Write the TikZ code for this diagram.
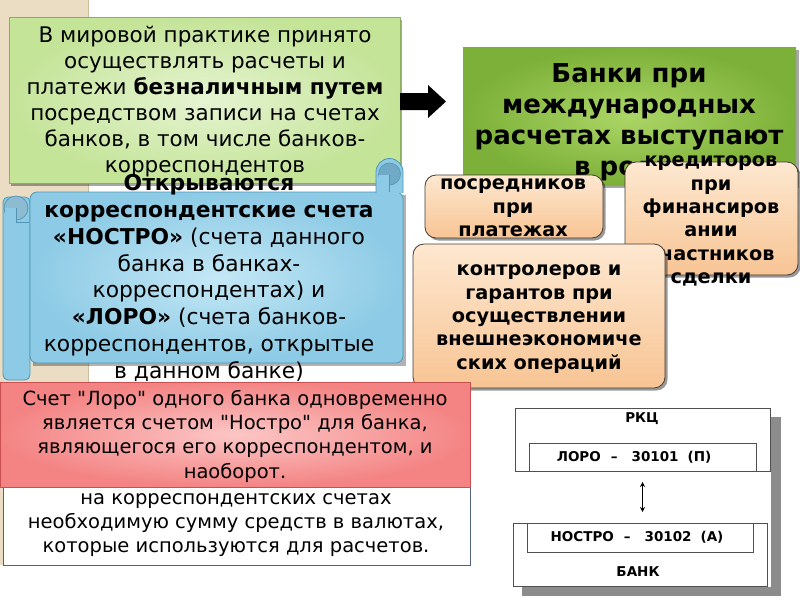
\documentclass[tikz,border=0pt]{standalone}
\usepackage{fontspec}
\setmainfont{DejaVu Sans}[Ligatures=TeXOff]
\usetikzlibrary{shadows,arrows.meta,fit}
\definecolor{strip}{RGB}{234,221,196}
\definecolor{stripline}{RGB}{205,188,160}
\definecolor{gA}{RGB}{196,228,152}
\definecolor{gAin}{RGB}{230,244,210}
\definecolor{gAline}{RGB}{140,175,95}
\definecolor{gB}{RGB}{124,176,56}
\definecolor{gBin}{RGB}{172,214,102}
\definecolor{peachTop}{RGB}{253,232,208}
\definecolor{peachBot}{RGB}{248,196,148}
\definecolor{peachLine}{RGB}{70,60,50}
\definecolor{blueOut}{RGB}{140,202,229}
\definecolor{blueIn}{RGB}{196,232,246}
\definecolor{blueLine}{RGB}{80,150,180}
\definecolor{curl}{RGB}{112,170,198}
\definecolor{redOut}{RGB}{244,132,132}
\definecolor{redIn}{RGB}{252,198,198}
\definecolor{redLine}{RGB}{200,80,80}
\definecolor{wline}{RGB}{80,96,136}
\definecolor{dgray}{RGB}{80,80,80}
\begin{document}
\begin{tikzpicture}[x=1pt,y=-1pt,
  boxbase/.style={inner sep=0pt, outer sep=0pt},
  greenA/.style={boxbase, draw=gAline, line width=0.8pt, inner color=gAin, outer color=gA,
     drop shadow={shadow xshift=1.5pt, shadow yshift=-2.5pt, fill=black, opacity=0.35}},
  greenB/.style={boxbase, inner color=gBin, outer color=gB,
     drop shadow={shadow xshift=3pt, shadow yshift=-3pt, fill=black, opacity=0.35}},
  peach/.style={boxbase, draw=peachLine, line width=0.8pt, rounded corners=11pt,
     top color=peachTop, bottom color=peachBot,
     drop shadow={shadow xshift=2.5pt, shadow yshift=-2.5pt, fill=black, opacity=0.4}},
  redbox/.style={boxbase, draw=redLine, line width=0.6pt, inner color=redIn, outer color=redOut},
  whitebox/.style={boxbase, draw=wline, line width=1pt, fill=white},
  dbox/.style={boxbase, draw=dgray, line width=0.8pt, fill=white},
  txtA/.style={inner sep=0pt, align=center, font=\fontsize{21.5}{26}\selectfont},
  txtB/.style={inner sep=0pt, align=center, font=\fontsize{26}{31}\selectfont\bfseries},
  txtP/.style={inner sep=0pt, align=center, font=\fontsize{19.3}{23.3}\selectfont\bfseries},
  txtS/.style={inner sep=0pt, align=center, font=\fontsize{21.8}{26.8}\selectfont},
  txtR/.style={inner sep=0pt, align=center, font=\fontsize{19.5}{24.3}\selectfont},
  txtD/.style={inner sep=0pt, align=center, font=\fontsize{13.5}{16}\selectfont\bfseries},
  scrollfill/.style={draw=blueLine, line width=0.8pt, fill=blueOut},
]
\useasboundingbox (0,0) rectangle (800,600);
\fill[white] (0,0) rectangle (800,600);
% left decorative strip
\fill[strip] (0,0) rectangle (88,565);
\draw[stripline, line width=1pt] (88,0) -- (88,565);

% green box 1
\node (g1) [greenA, fit={(9,17) (400,183)}] {};
\node (g1t) [txtA] at (205,102) {В мировой практике принято\\осуществлять расчеты и\\платежи \textbf{безналичным путем}\\посредством записи на счетах\\банков, в том числе банков-\\корреспондентов};

% block arrow
\fill[black] (400,93) -- (428,93) -- (428,85) -- (446,101.5) -- (428,118) -- (428,110) -- (400,110) -- cycle;

% green box 2
\node (g2) [greenB, fit={(463,47) (796,185)}] {};
\node (g2t) [txtB] at (629,122) {Банки при\\международных\\расчетах выступают\\в роли:};

% peach boxes
\node (p1) [peach, fit={(425,175) (603,238)}] {};
\node (p1t) [txtP] at (513,208) {посредников\\при\\платежах};
\node (p2) [peach, fit={(625,162) (798,275)}] {};
\node (p2t) [txtP] at (711,221) {кредиторов\\при\\финансиров\\ании\\участников\\сделки};
\node (p3) [peach, fit={(413,244) (665,388)}] {};
\node (p3t) [txtP] at (539,319) {контролеров и\\гарантов при\\осуществлении\\внешнеэкономиче\\ских операций};

% scroll
\fill[black, opacity=0.3] (33,195) rectangle (406,366);
\draw[scrollfill, rounded corners=5pt] (3,197) rectangle (30,380);
\draw[draw=blueLine, line width=0.8pt, inner color=blueIn, outer color=blueOut, rounded corners=7pt]
  (30,192) rectangle (403,363);
\draw[scrollfill] (376,193) -- (376,172) arc (180:360:13.5) -- (403,193);
\draw[draw=blueLine, line width=0.6pt, fill=curl] (389.5,174) circle (11);
\fill[blueOut] (378.5,175) rectangle (389.5,192);
\draw[blueLine, line width=0.6pt] (389.5,175) -- (389.5,192);
\draw[draw=blueLine, line width=0.7pt, fill=curl!80!white] (16,208) circle (12);
\fill[blueOut] (4.5,208) rectangle (16,222);
\draw[blueLine, line width=0.6pt] (16,208) -- (16,222) -- (29,222);
\node (st) [txtS] at (209,278) {\textbf{Открываются}\\\textbf{корреспондентские счета}\\\textbf{«НОСТРО»} (счета данного\\банка в банках-\\корреспондентах) и\\\textbf{«ЛОРО»} (счета банков-\\корреспондентов, открытые\\в данном банке)};

% white box and red box
\node (wb) [whitebox, fit={(3,470) (470,565)}] {};
\node (wbt) [txtR] at (236,525) {на корреспондентских счетах\\необходимую сумму средств в валютах,\\которые используются для расчетов.};
\node (rb) [redbox, fit={(0,382) (470,487)}] {};
\node (rbt) [txtR] at (235,436) {Счет "Лоро" одного банка одновременно\\является счетом "Ностро" для банка,\\являющегося его корреспондентом, и\\наоборот.};

% bottom-right diagram
\fill[black!45] (522,417) rectangle (781,596);
\fill[white] (513,408) rectangle (771,587);
\node (rkcbox) [dbox, fit={(515,408) (770,471)}] {};
\node (loro) [boxbase, fit={(529,443) (756,471)}] {};
\draw[dgray, line width=0.8pt] (loro.south west) -- (loro.north west) -- (loro.north east) -- (loro.south east);
\node (rkc) [txtD] at (642,419) {РКЦ};
\node (lorot) [txtD] at (634,457) {ЛОРО\hspace{10pt}–\hspace{14pt}30101\hspace{9pt}(П)};
\node (bankbox) [dbox, fit={(513,523) (767,586)}] {};
\node (nostro) [boxbase, draw=dgray, line width=0.8pt, fit={(527,523) (753,552)}] {};
\node (nostrot) [txtD] at (637,537) {НОСТРО\hspace{10pt}–\hspace{14pt}30102\hspace{9pt}(А)};
\node (bank) [txtD] at (638,572) {БАНК};
\draw[{Stealth[length=5pt,width=5pt]}-{Stealth[length=5pt,width=5pt]}, line width=0.9pt, shorten <=11pt, shorten >=11pt]
  (rkcbox.south) -- (rkcbox.south |- bankbox.north);
\end{tikzpicture}
\end{document}
